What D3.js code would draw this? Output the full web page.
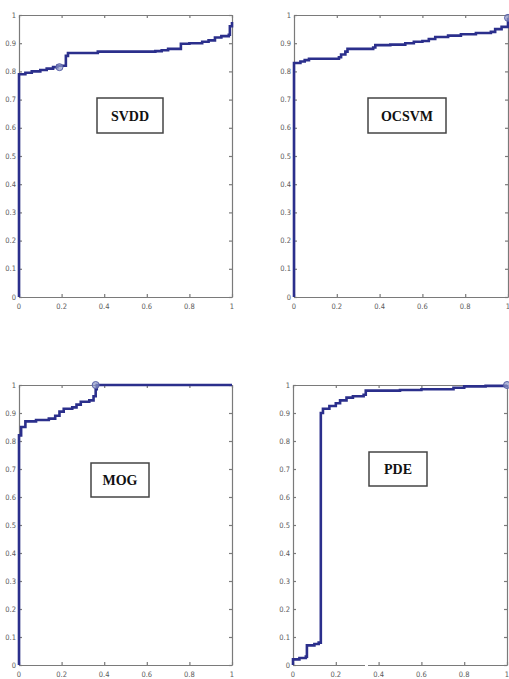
<!DOCTYPE html>
<html>
<head>
<meta charset="utf-8">
<script src="https://cdn.jsdelivr.net/npm/d3@7"></script>
<style>
  body { margin: 0; background: #fff; }
  .tick-label { font-family: "Liberation Sans Narrow", "DejaVu Sans Condensed", sans-serif; font-size: 7.5px; fill: #5a5a5a; }
  .name-label { font-family: "Liberation Serif", "DejaVu Serif", serif; font-weight: bold; font-size: 14px; fill: #111; }
</style>
</head>
<body>
<div id="chart"></div>
<script>
// ROC-like curves (x = false alarm rate, y = detection rate)
var svddX = [0, 0, 0.03, 0.06, 0.10, 0.13, 0.16, 0.18, 0.20, 0.22, 0.23, 0.30, 0.37, 0.50, 0.64, 0.67, 0.70, 0.76, 0.80, 0.86, 0.89, 0.92, 0.95, 0.985, 0.99, 1];
var svddY = [0, 0.79, 0.795, 0.80, 0.805, 0.81, 0.815, 0.82, 0.82, 0.855, 0.865, 0.865, 0.87, 0.87, 0.872, 0.875, 0.88, 0.898, 0.90, 0.905, 0.91, 0.92, 0.925, 0.93, 0.96, 0.975];

var ocsvmX = [0, 0, 0.03, 0.05, 0.07, 0.21, 0.22, 0.24, 0.25, 0.37, 0.38, 0.45, 0.52, 0.56, 0.60, 0.63, 0.66, 0.72, 0.78, 0.85, 0.92, 0.94, 0.97, 1];
var ocsvmY = [0, 0.83, 0.835, 0.84, 0.845, 0.85, 0.86, 0.87, 0.88, 0.885, 0.893, 0.895, 0.90, 0.905, 0.908, 0.915, 0.922, 0.927, 0.932, 0.936, 0.94, 0.95, 0.958, 0.99];

var mogX = [0, 0, 0.01, 0.03, 0.08, 0.14, 0.17, 0.19, 0.21, 0.25, 0.27, 0.29, 0.33, 0.35, 0.36, 0.365, 1];
var mogY = [0, 0.82, 0.85, 0.87, 0.875, 0.88, 0.89, 0.905, 0.915, 0.92, 0.93, 0.94, 0.945, 0.96, 0.985, 1, 1];

var pdeX = [0, 0, 0.03, 0.06, 0.065, 0.10, 0.12, 0.13, 0.14, 0.17, 0.20, 0.22, 0.25, 0.28, 0.33, 0.34, 0.50, 0.60, 0.75, 0.80, 0.90, 1];
var pdeY = [0, 0.02, 0.025, 0.03, 0.07, 0.075, 0.08, 0.90, 0.915, 0.925, 0.935, 0.945, 0.955, 0.96, 0.965, 0.98, 0.982, 0.985, 0.99, 0.995, 0.997, 1];

var panelNames = ["SVDD", "OCSVM", "MOG", "PDE"];
var seriesX = [svddX, ocsvmX, mogX, pdeX];
var seriesY = [svddY, ocsvmY, mogY, pdeY];
// operating point marker on each curve
var markerX = [0.19, 1, 0.36, 1];
var markerY = [0.815, 0.99, 1, 1];

var xTicks = [0, 0.2, 0.4, 0.6, 0.8, 1];
var yTicks = [0, 0.1, 0.2, 0.3, 0.4, 0.5, 0.6, 0.7, 0.8, 0.9, 1];

var svg = d3.select("#chart")
  .append("svg")
  .attr("width", 509)
  .attr("height", 679);

// panel frames and name boxes (layout only)
var frames = [
  { left: 19, top: 15, width: 213, height: 282, box: [97, 98, 66, 35] },
  { left: 294, top: 15, width: 214, height: 282, box: [368, 98, 78, 35] },
  { left: 19, top: 385, width: 213, height: 280, box: [91, 463, 58, 34] },
  { left: 293, top: 385, width: 214, height: 280, box: [369, 452, 58, 34] }
];

var drawPanel = function(i) {
  var f = frames[i];
  var g = svg.append("g").attr("transform", "translate(" + f.left + "," + f.top + ")");

  var xScale = d3.scaleLinear().domain([0, 1]).range([0, f.width]);
  var yScale = d3.scaleLinear().domain([0, 1]).range([f.height, 0]);

  // MATLAB style inward ticks on all sides
  g.append("g").attr("transform", "translate(0," + f.height + ")")
    .call(d3.axisBottom(xScale).tickValues(xTicks).tickSizeInner(-3).tickSizeOuter(0).tickFormat(""));
  g.append("g")
    .call(d3.axisTop(xScale).tickValues(xTicks).tickSizeInner(-3).tickSizeOuter(0).tickFormat(""));
  g.append("g")
    .call(d3.axisLeft(yScale).tickValues(yTicks).tickSizeInner(-3).tickSizeOuter(0).tickFormat(""));
  g.append("g").attr("transform", "translate(" + f.width + ",0)")
    .call(d3.axisRight(yScale).tickValues(yTicks).tickSizeInner(-3).tickSizeOuter(0).tickFormat(""));
  g.selectAll(".domain, .tick line").attr("stroke", "#7a7a7a").attr("stroke-width", 1.2);

  g.selectAll(".xlab").data(xTicks).enter().append("text")
    .attr("class", "tick-label")
    .attr("x", function(d) { return xScale(d); })
    .attr("y", f.height + 12)
    .attr("text-anchor", "middle")
    .text(function(d) { return d; });

  g.selectAll(".ylab").data(yTicks).enter().append("text")
    .attr("class", "tick-label")
    .attr("x", -3)
    .attr("y", function(d) { return yScale(d) + 2.5; })
    .attr("text-anchor", "end")
    .text(function(d) { return d; });

  var pts = seriesX[i].map(function(x, k) { return [x, seriesY[i][k]]; });
  var line = d3.line()
    .x(function(d) { return xScale(d[0]); })
    .y(function(d) { return yScale(d[1]); })
    .curve(d3.curveStepAfter);

  g.append("path")
    .datum(pts)
    .attr("fill", "none")
    .attr("stroke", "#2b2f8c")
    .attr("stroke-width", 2.6)
    .attr("d", line);

  g.append("circle")
    .attr("cx", xScale(markerX[i]))
    .attr("cy", yScale(markerY[i]))
    .attr("r", 3.5)
    .attr("fill", "#8f98c8")
    .attr("fill-opacity", 0.7)
    .attr("stroke", "#5a62a8")
    .attr("stroke-width", 1);

  // name box
  var b = f.box;
  svg.append("rect")
    .attr("x", b[0]).attr("y", b[1])
    .attr("width", b[2]).attr("height", b[3])
    .attr("fill", "#fff")
    .attr("stroke", "#444")
    .attr("stroke-width", 1.5);
  svg.append("text")
    .attr("class", "name-label")
    .attr("x", b[0] + b[2] / 2)
    .attr("y", b[1] + b[3] / 2 + 5)
    .attr("text-anchor", "middle")
    .text(panelNames[i]);
};

for (var i = 0; i < 4; i++) {
  drawPanel(i);
}

// small gap in the last panel's bottom axis, as in the scan
svg.append("rect").attr("x", 365).attr("y", 663).attr("width", 3).attr("height", 4).attr("fill", "#fff");
</script>
</body>
</html>
